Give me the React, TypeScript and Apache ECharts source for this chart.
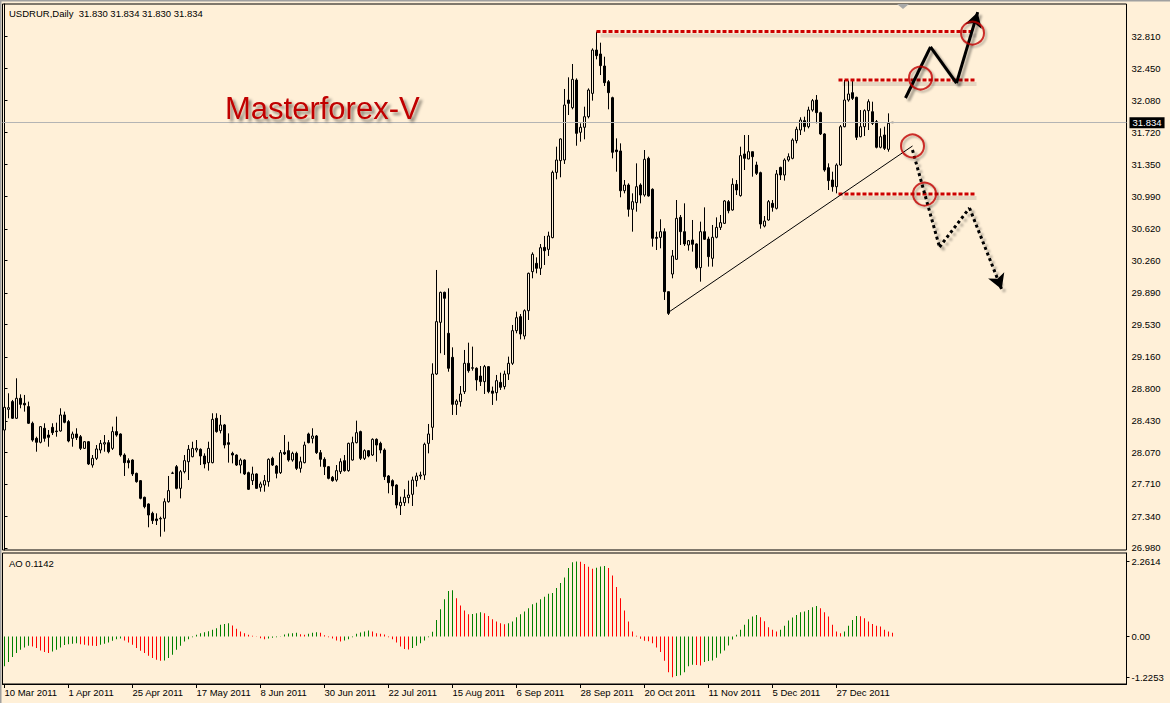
import React, { useEffect, useRef } from "react";
import * as echarts from "echarts";

const BG = "#FFF0D8";
const SLOTS = 281;

const dateLabels = ["10 Mar 2011","1 Apr 2011","25 Apr 2011","17 May 2011","8 Jun 2011","30 Jun 2011","22 Jul 2011","15 Aug 2011","6 Sep 2011","28 Sep 2011","20 Oct 2011","11 Nov 2011","5 Dec 2011","27 Dec 2011"];
const priceTicks = [26.98,27.34,27.71,28.07,28.43,28.8,29.16,29.53,29.89,30.26,30.62,30.99,31.35,31.72,32.08,32.45,32.81];
const aoTicks = [-1.2253, 0, 2.2614];

const opens = [
28.325,28.561,28.649,28.459,28.687,28.630,28.592,28.402,28.230,28.185,28.345,28.268,28.356,28.314,28.314,28.497,28.421,28.230,28.280,28.249,
28.116,28.192,27.926,28.002,28.097,28.165,28.181,28.116,28.307,28.280,28.040,27.976,27.983,27.831,27.748,27.558,27.482,27.375,27.311,27.311,
27.318,27.508,27.831,27.907,27.660,27.850,27.964,28.021,28.097,28.105,28.029,27.953,27.953,28.459,28.318,28.383,28.181,28.059,28.040,27.926,
27.983,27.839,27.748,27.824,27.672,27.698,27.736,28.002,27.915,27.839,28.071,28.090,27.983,28.059,27.888,27.953,28.280,28.230,28.257,28.067,
27.991,27.907,27.786,27.755,27.850,27.976,27.862,27.983,28.181,28.307,28.002,28.090,28.040,28.219,28.173,28.097,27.801,27.748,27.698,27.463,
27.497,27.554,27.592,27.748,27.801,27.812,28.173,28.356,28.964,29.553,29.895,29.428,29.154,28.618,28.649,28.763,29.086,29.029,29.029,28.941,
28.877,29.048,28.770,28.751,28.869,28.820,28.964,29.086,29.458,29.618,29.397,29.686,30.131,30.226,30.169,30.408,30.385,30.519,31.263,31.397,
31.404,32.088,32.001,32.316,31.720,31.777,31.898,32.164,32.658,32.613,32.476,32.297,32.115,31.518,31.507,31.054,31.119,30.842,30.918,31.119,
31.005,31.423,31.070,30.522,30.522,30.587,29.903,30.104,30.272,30.750,30.587,30.435,30.492,30.447,30.177,30.587,30.503,30.283,30.523,30.636,
30.682,30.929,30.834,31.127,30.998,31.473,31.416,31.499,31.347,31.260,30.651,30.720,30.910,30.853,31.320,31.233,31.404,31.423,31.625,31.746,
31.853,31.784,31.974,32.088,31.944,31.701,31.317,31.176,31.100,31.347,31.784,32.088,32.172,32.119,31.670,31.784,31.967,31.955,31.841,31.549,
31.689,31.526,31.830];
const closes = [
28.584,28.580,28.459,28.687,28.618,28.611,28.402,28.211,28.185,28.364,28.230,28.242,28.295,28.307,28.497,28.413,28.200,28.280,28.238,28.116,
28.192,27.938,28.002,28.109,28.173,28.181,28.078,28.307,28.268,28.040,27.953,27.953,27.824,27.736,27.546,27.451,27.356,27.292,27.292,27.318,
27.508,27.634,27.835,27.660,27.850,27.976,28.105,28.116,28.116,28.029,27.938,28.116,28.447,28.307,28.383,28.154,28.162,28.040,27.926,27.983,
27.824,27.649,27.824,27.660,27.710,27.748,27.991,27.926,27.831,28.067,28.052,27.983,28.059,27.888,27.964,28.154,28.181,28.257,28.067,27.991,
27.907,27.774,27.748,27.862,27.964,27.862,28.173,28.181,28.295,28.002,28.090,28.029,28.219,28.154,28.097,27.793,27.725,27.687,27.470,27.501,
27.558,27.584,27.755,27.801,27.812,28.162,28.280,28.964,29.561,29.895,29.827,29.029,28.618,28.656,28.736,29.086,29.002,29.036,28.896,28.877,
29.048,28.763,28.744,28.888,28.812,28.964,29.086,29.458,29.606,29.420,29.686,30.112,30.329,30.169,30.404,30.370,30.538,31.263,31.404,31.644,
32.031,32.050,32.324,31.708,31.777,31.898,32.202,32.658,32.594,32.480,32.286,32.172,31.492,31.499,31.054,31.119,30.842,30.929,31.100,31.005,
31.412,30.994,30.511,30.511,30.587,29.903,29.656,30.310,30.739,30.587,30.447,30.484,30.443,30.177,30.587,30.500,30.302,30.523,30.636,30.690,
30.937,30.826,31.127,31.062,31.454,31.423,31.499,31.442,31.252,30.674,30.708,30.929,30.864,31.245,31.233,31.404,31.442,31.632,31.754,31.860,
31.784,31.974,32.081,31.944,31.701,31.290,31.169,31.100,31.347,31.784,32.088,32.157,32.107,31.663,31.784,31.967,32.069,31.822,31.549,31.670,
31.537,31.822,31.834];
const lows = [
28.307,28.459,28.451,28.451,28.573,28.535,28.394,28.192,28.078,28.173,28.192,28.135,28.268,28.249,28.307,28.402,28.185,28.135,28.211,28.097,
28.109,27.926,27.896,27.983,28.059,28.078,28.059,28.097,28.249,28.021,27.801,27.888,27.801,27.725,27.535,27.432,27.216,27.254,27.242,27.109,
27.166,27.497,27.824,27.649,27.546,27.831,27.755,28.014,28.070,27.926,27.888,27.862,27.945,28.295,28.287,28.116,27.953,27.945,27.915,27.831,
27.812,27.641,27.698,27.653,27.622,27.622,27.679,27.915,27.774,27.824,28.040,27.964,27.964,27.869,27.839,27.945,28.173,28.173,28.052,27.907,
27.812,27.763,27.736,27.736,27.824,27.850,27.850,27.976,28.173,27.983,27.983,28.014,28.029,27.964,28.059,27.755,27.603,27.584,27.432,27.356,
27.459,27.489,27.459,27.679,27.763,27.755,28.059,28.211,28.953,29.200,29.181,28.990,28.497,28.497,28.592,28.736,28.979,29.002,28.774,28.827,
28.736,28.744,28.611,28.660,28.782,28.789,28.896,29.067,29.428,29.359,29.359,29.580,30.055,30.112,30.093,30.207,30.310,30.511,31.184,31.207,
31.359,31.917,31.982,31.567,31.613,31.640,31.879,32.081,32.552,32.373,32.248,31.982,31.423,31.271,30.979,31.024,30.758,30.587,30.815,30.910,
30.986,30.986,30.416,30.378,30.397,29.808,29.637,30.055,30.264,30.435,30.424,30.371,30.359,30.158,30.017,30.492,30.188,30.188,30.511,30.606,
30.674,30.796,30.826,31.005,30.986,31.290,31.412,31.214,31.233,30.621,30.636,30.712,30.815,30.840,31.176,31.169,31.385,31.412,31.594,31.689,
31.727,31.765,31.955,31.822,31.689,31.271,31.062,31.043,31.024,31.336,31.777,32.069,32.088,31.632,31.663,31.678,31.746,31.803,31.537,31.537,
31.518,31.499,31.830];
const highs = [
28.618,28.744,28.668,28.915,28.732,28.725,28.649,28.421,28.249,28.371,28.402,28.325,28.402,28.409,28.573,28.535,28.440,28.307,28.345,28.268,
28.200,28.200,28.040,28.154,28.211,28.268,28.211,28.364,28.478,28.287,28.059,28.002,27.991,27.839,27.755,27.565,27.489,27.394,27.375,27.337,
27.546,27.801,27.850,27.926,27.869,28.040,28.154,28.192,28.211,28.116,28.059,28.192,28.516,28.516,28.497,28.394,28.287,28.078,28.048,28.002,
27.991,27.850,27.907,27.831,27.736,27.812,28.002,28.021,27.926,28.097,28.268,28.192,28.078,28.078,28.021,28.192,28.295,28.345,28.268,28.097,
28.014,27.915,27.801,27.926,28.002,28.040,28.181,28.249,28.432,28.318,28.105,28.097,28.230,28.230,28.192,28.116,27.812,27.763,27.706,27.565,
27.649,27.748,27.793,27.839,27.850,28.181,28.394,29.086,30.150,29.903,29.903,29.941,29.268,28.675,28.827,29.238,29.321,29.276,29.040,29.055,
29.067,29.055,28.820,28.953,28.979,29.002,29.162,29.523,29.675,29.648,29.701,30.120,30.351,30.294,30.446,30.538,30.587,31.283,31.556,31.651,
32.214,32.347,32.499,32.335,31.822,32.012,32.221,32.677,32.868,32.742,32.582,32.316,32.126,31.651,31.594,31.176,31.138,31.024,31.366,31.138,
31.518,31.442,31.081,30.587,30.728,30.625,29.903,30.378,30.948,30.777,30.910,30.492,30.720,30.454,30.701,30.864,30.530,30.663,30.750,30.777,
30.948,30.948,31.195,31.176,31.556,31.689,31.689,31.499,31.385,31.271,30.765,30.948,30.948,31.290,31.328,31.423,31.480,31.651,31.784,31.891,
31.898,32.012,32.100,32.145,31.955,31.709,31.366,31.271,31.366,31.803,32.316,32.309,32.309,32.126,31.974,31.982,32.096,32.069,31.860,31.765,
31.784,31.936,31.834];

const aoValues = [
-0.90,-0.77,-0.62,-0.50,-0.40,-0.33,-0.28,-0.30,-0.35,-0.42,-0.47,-0.50,-0.45,-0.40,-0.33,-0.26,-0.23,-0.22,-0.20,-0.23,
-0.25,-0.27,-0.28,-0.29,-0.25,-0.22,-0.18,-0.13,-0.08,-0.06,-0.12,-0.18,-0.25,-0.35,-0.43,-0.50,-0.58,-0.65,-0.70,-0.73,
-0.72,-0.65,-0.55,-0.40,-0.28,-0.15,-0.08,-0.02,0.05,0.10,0.13,0.16,0.20,0.25,0.35,0.38,0.40,0.33,0.23,0.15,
0.10,0.05,0.02,-0.01,-0.05,-0.08,-0.06,-0.04,-0.02,0.01,0.06,0.09,0.10,0.11,0.07,0.05,0.08,0.11,0.13,0.11,
0.04,-0.02,-0.06,-0.12,-0.15,-0.12,-0.08,-0.02,0.08,0.12,0.15,0.18,0.15,0.10,0.08,0.06,-0.02,-0.08,-0.18,-0.30,
-0.38,-0.39,-0.35,-0.28,-0.20,-0.12,-0.02,0.14,0.50,0.82,1.12,1.37,1.39,1.15,0.93,0.78,0.67,0.68,0.70,0.73,
0.70,0.62,0.52,0.45,0.40,0.37,0.40,0.45,0.58,0.67,0.75,0.85,0.97,1.02,1.12,1.20,1.29,1.31,1.46,1.61,
1.78,2.06,2.24,2.2614,2.25,2.18,2.10,2.04,2.07,2.11,2.12,2.06,1.84,1.49,1.15,0.78,0.45,0.15,0.02,-0.07,
-0.13,-0.14,-0.20,-0.33,-0.47,-0.73,-1.08,-1.2253,-1.19,-1.17,-1.08,-0.90,-0.85,-0.86,-0.87,-0.77,-0.74,-0.72,-0.64,-0.51,
-0.42,-0.27,-0.09,0.05,0.20,0.35,0.52,0.60,0.65,0.58,0.46,0.28,0.20,0.15,0.20,0.32,0.48,0.57,0.65,0.73,
0.75,0.80,0.88,0.92,0.85,0.73,0.60,0.35,0.15,0.10,0.15,0.32,0.50,0.62,0.61,0.55,0.45,0.38,0.32,0.30,
0.20,0.15,0.1142];

// annotation anchors in [bar index, price]
const circlePoints = [[242, 32.852], [229, 32.339], [227, 31.564], [230, 31.016]];
const levelTop = [[148, 32.868], [242.5, 32.868]];
const levelMid = [[208.5, 32.316], [242.5, 32.316]];
const levelLow = [[208.5, 31.016], [242.5, 31.016]];
const trendLine = [[165.75, 29.66], [227, 31.564]];
const upPath = [[225.25, 32.111], [231.5, 32.693], [238, 32.282], [243.3, 33.09]];
const downPath = [[227, 31.518], [233.75, 30.412], [241.25, 30.857], [249.3, 29.93]];

const FONT = '"Liberation Sans", Arial, sans-serif';
const SHADOW_DROP = 0.045; // price units (~4px) for the level-line drop shadow

function segments(points: number[][], lineStyle: any, arrow: boolean) {
  const out: any[] = [];
  for (let k = 0; k < points.length - 1; k++) {
    const last = arrow && k === points.length - 2;
    out.push([
      { coord: points[k], symbol: "none", lineStyle },
      { coord: points[k + 1], symbol: last ? "arrow" : "none", symbolSize: last ? [13, 15] : 0, lineStyle },
    ]);
  }
  return out;
}

export default function App() {
  const ref = useRef<HTMLDivElement>(null);
  useEffect(() => {
    if (!ref.current) return;
    const chart = echarts.init(ref.current, null, { renderer: "svg" });
    const cats = Array.from({ length: SLOTS }, (_, i) => String(i));
    const candles = opens.map((o, i) => [o, closes[i], lows[i], highs[i]]);
    const aoData = aoValues.map((v, i) => ({
      value: v,
      itemStyle: { color: i === 0 || v > aoValues[i - 1] ? "#008000" : "#FF0000" },
    }));
    const showIdx = (idx: number) => idx % 16 === 0 && idx / 16 < dateLabels.length;

    const redDot = { color: "#CC0000", width: 3, type: [4, 2] };
    const redShadow = { color: "rgba(0,0,0,0.10)", width: 4, type: "solid" };
    const blackSolid = { color: "#000", width: 3, type: "solid", shadowColor: "rgba(0,0,0,0.35)", shadowBlur: 2, shadowOffsetX: 3, shadowOffsetY: 3 };
    const blackDot = { color: "#000", width: 3, type: [3, 3], shadowColor: "rgba(0,0,0,0.3)", shadowBlur: 2, shadowOffsetX: 3, shadowOffsetY: 3 };
    const thin = { color: "#000", width: 1, type: "solid" };

    const markData = [
      ...segments(upPath, blackSolid, true),
      ...segments(downPath, blackDot, true),
    ];

    const lineSeries = (pts: number[][], style: any, z = 4) => ({
      type: "line", xAxisIndex: 2, yAxisIndex: 0, data: pts, symbol: "none", showSymbol: false,
      silent: true, lineStyle: style, itemStyle: { color: style.color }, z,
    });
    const dropped = (pts: number[][]) => pts.map(([x, y], k) => [x + (k === 0 ? 1 : 0.5), y - SHADOW_DROP]);

    const option: any = {
      animation: false,
      backgroundColor: BG,
      grid: [
        { left: 2.5, top: 4, width: 1124, height: 546, show: true, borderColor: "#000", borderWidth: 1, backgroundColor: "transparent" },
        { left: 2.5, top: 553, width: 1124, height: 131, show: true, borderColor: "#000", borderWidth: 1, backgroundColor: "transparent" },
      ],
      xAxis: [
        { type: "category", gridIndex: 0, data: cats, boundaryGap: true, show: false },
        {
          type: "category", gridIndex: 1, data: cats, boundaryGap: true,
          axisLine: { show: true, onZero: false, lineStyle: { color: "#000" } },
          axisTick: { show: true, interval: (idx: number) => showIdx(idx), alignWithLabel: true, length: 4, lineStyle: { color: "#000" } },
          axisLabel: {
            interval: (idx: number) => showIdx(idx),
            formatter: (_v: string, idx: number) => (showIdx(idx) ? dateLabels[idx / 16] : ""),
            align: "left", margin: 3, fontSize: 9.5, fontFamily: FONT, color: "#000",
          },
          splitLine: { show: false },
        },
        { type: "value", gridIndex: 0, min: -0.5, max: SLOTS - 0.5, show: false },
      ],
      yAxis: [
        {
          type: "value", gridIndex: 0, position: "right", min: 26.957, max: 33.183, scale: true,
          axisLine: { show: true, lineStyle: { color: "#000" } },
          axisTick: { show: true, customValues: priceTicks, length: 3, lineStyle: { color: "#000" } },
          axisLabel: { customValues: priceTicks, formatter: (v: number) => v.toFixed(3), fontSize: 9.5, fontFamily: FONT, color: "#000", margin: 5 },
          splitLine: { show: false },
        },
        {
          type: "value", gridIndex: 1, position: "right", min: -1.431, max: 2.515,
          axisLine: { show: true, lineStyle: { color: "#000" } },
          axisTick: { show: true, customValues: aoTicks, length: 3, lineStyle: { color: "#000" } },
          axisLabel: { customValues: aoTicks, formatter: (v: number) => (v === 0 ? "0.00" : v.toFixed(4)), fontSize: 9.5, fontFamily: FONT, color: "#000", margin: 5 },
          splitLine: { show: false },
        },
      ],
      series: [
        {
          type: "candlestick", xAxisIndex: 0, yAxisIndex: 0, data: candles, barWidth: 3,
          itemStyle: { color: BG, color0: "#000", borderColor: "#000", borderColor0: "#000", borderWidth: 1 },
          markLine: {
            silent: true, symbol: "none",
            data: [{ yAxis: 31.834 }],
            lineStyle: { color: "#B4B4B4", type: "solid", width: 1 },
            label: { show: true, position: "end", formatter: "31.834", backgroundColor: "#000", color: "#fff", padding: [1, 3, 0, 3], fontSize: 9.5, fontFamily: FONT, distance: 3 },
          },
        },
        {
          type: "bar", xAxisIndex: 1, yAxisIndex: 1, data: aoData, barWidth: 1,
        },
        lineSeries(dropped(levelTop), redShadow, 3),
        lineSeries(dropped(levelMid), redShadow, 3),
        lineSeries(dropped(levelLow), redShadow, 3),
        lineSeries(levelTop, redDot),
        lineSeries(levelMid, redDot),
        lineSeries(levelLow, redDot),
        lineSeries(trendLine, thin),
        {
          type: "scatter", xAxisIndex: 2, yAxisIndex: 0, data: circlePoints, symbol: "circle", symbolSize: 23, silent: true, z: 5,
          itemStyle: { color: "rgba(0,0,0,0)", borderColor: "#C00000", borderWidth: 2, shadowColor: "rgba(0,0,0,0.35)", shadowBlur: 2, shadowOffsetX: 2, shadowOffsetY: 2 },
          markLine: { silent: true, symbol: "none", label: { show: false }, data: markData },
        },
      ],
      graphic: [
        { type: "line", shape: { x1: 0, y1: 0.5, x2: 1170, y2: 0.5 }, style: { stroke: "#A0A0A0", lineWidth: 2 }, silent: true },
        { type: "line", shape: { x1: 0.5, y1: 0, x2: 0.5, y2: 703 }, style: { stroke: "#A0A0A0", lineWidth: 2 }, silent: true },
        { type: "polygon", shape: { points: [[897, 4], [909, 4], [903, 9]] }, style: { fill: "#A8A8A8" }, silent: true },
        { type: "text", left: 9, top: 8, style: { text: "USDRUR,Daily  31.830 31.834 31.830 31.834", font: `9.5px ${FONT}`, fill: "#000" }, silent: true },
        { type: "text", left: 9, top: 558, style: { text: "AO 0.1142", font: `9.5px ${FONT}`, fill: "#000" }, silent: true },
        {
          type: "text", left: 225, top: 93, z: 10,
          style: { text: "Masterforex-V", font: `31px ${FONT}`, fill: "#C00000", textShadowColor: "rgba(0,0,0,0.45)", textShadowBlur: 3, textShadowOffsetX: 3, textShadowOffsetY: 3, shadowColor: "rgba(0,0,0,0.45)", shadowBlur: 3, shadowOffsetX: 3, shadowOffsetY: 3 },
          silent: true,
        },
      ],
    };
    chart.setOption(option);
    return () => chart.dispose();
  }, []);
  return <div ref={ref} style={{ position: "fixed", left: 0, top: 0, width: 1170, height: 703 }} />;
}
